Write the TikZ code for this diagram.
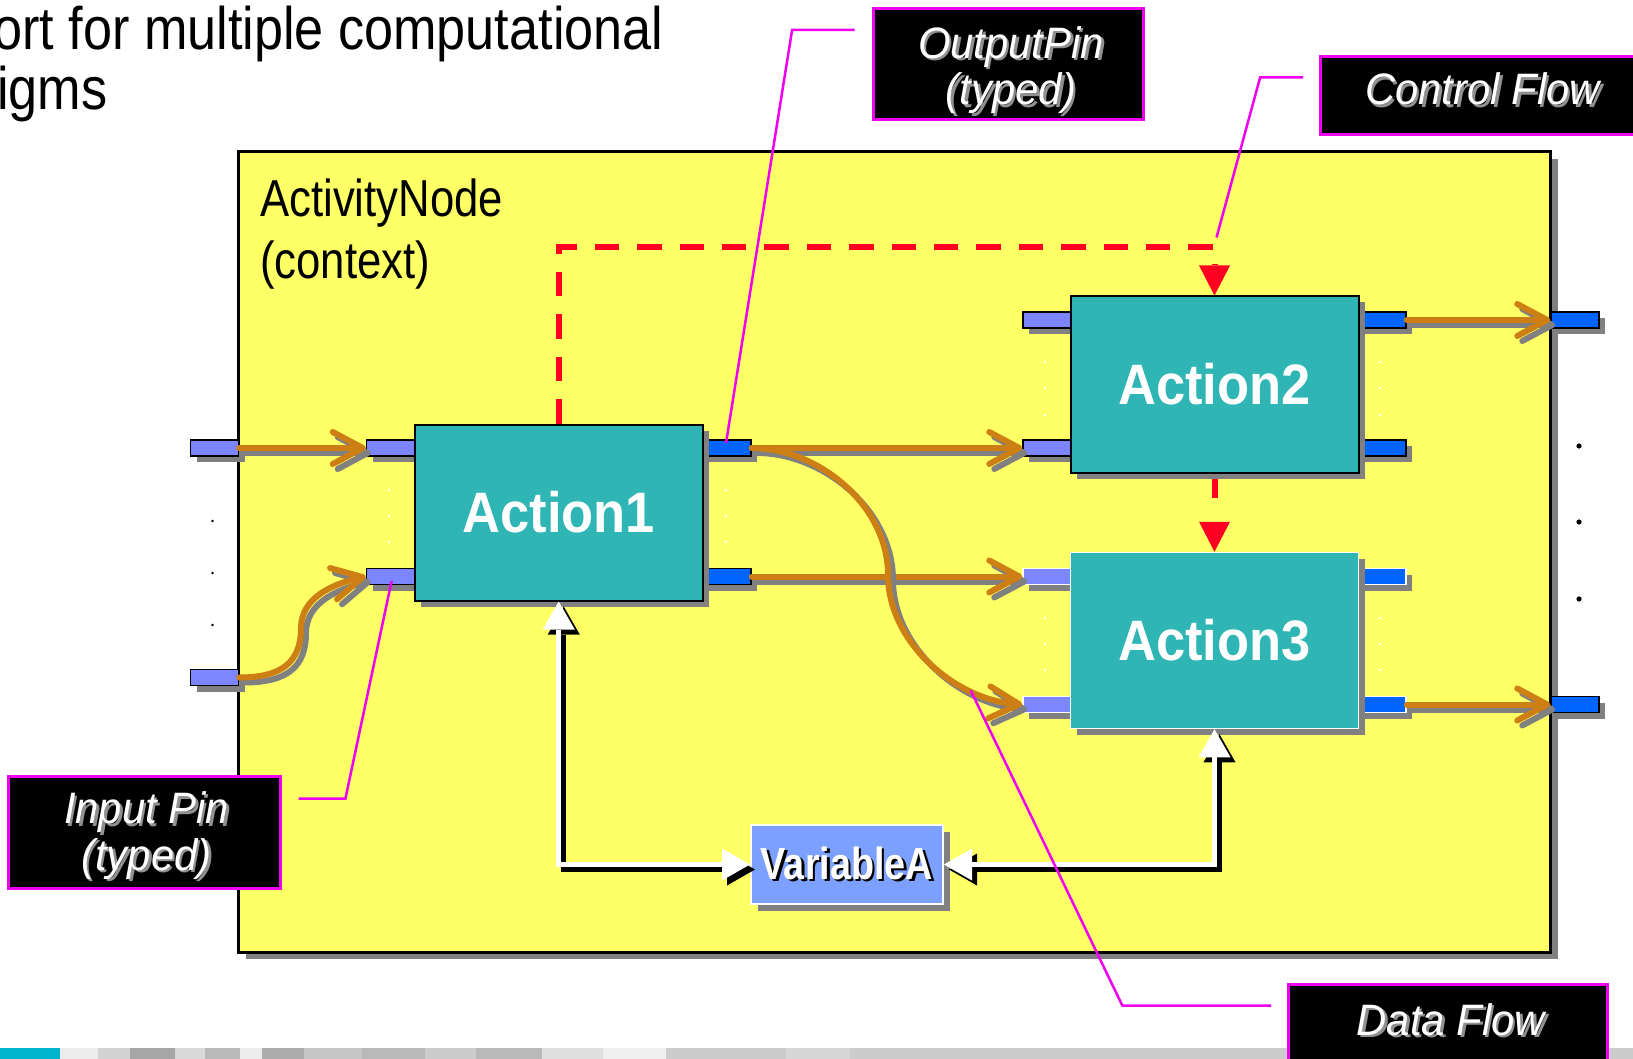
\documentclass[tikz,border=0pt]{standalone}
\usepackage{fontspec}
\setmainfont{Liberation Sans}
\newfontfamily\condfont[FakeStretch=0.84]{Liberation Sans}
\newfontfamily\actfont[FakeStretch=0.92]{Liberation Sans}
\newfontfamily\headfont[FakeStretch=0.87]{Liberation Sans}
\newfontfamily\notefont[FakeStretch=0.95]{Liberation Sans}
\usetikzlibrary{arrows.meta,shadows,calc}
\pgfdeclarelayer{base}
\pgfdeclarelayer{under}
\pgfsetlayers{base,under,main}

\definecolor{ctxyellow}{HTML}{FFFF66}
\definecolor{actteal}{HTML}{2EB5B4}
\definecolor{pinin}{HTML}{7C86FF}
\definecolor{pinout}{HTML}{0064FF}
\definecolor{flowor}{HTML}{CD7F14}
\definecolor{ctrlred}{HTML}{FF0022}
\definecolor{callmag}{HTML}{F000F0}
\definecolor{varblue}{HTML}{7BA0FF}
\definecolor{shadowgray}{HTML}{808080}
\definecolor{textshade}{HTML}{909090}
\definecolor{stripcyan}{HTML}{00B4D0}

% white text with an offset shadow copy behind it
\newcommand\shadowed[2]{\leavevmode\rlap{\kern2.5pt\raisebox{-2.5pt}{\textcolor{#1}{#2}}}#2}

\tikzset{
  boxshade/.style={drop shadow={shadow xshift=#1, shadow yshift=-#1, opacity=1, fill=shadowgray}},
  boxshade/.default=6pt,
  ctxbox/.style={draw=black, line width=3pt, fill=ctxyellow, minimum width=1312pt, minimum height=800pt, inner sep=0pt, boxshade=7pt},
  pinbox/.style={draw=black, line width=1.5pt, minimum width=48pt, minimum height=16pt, inner sep=0pt, boxshade},
  inpin/.style={pinbox, fill=pinin},
  outpin/.style={pinbox, fill=pinout},
  actbox/.style={draw=black, line width=2pt, fill=actteal, minimum width=288pt, minimum height=176pt, inner sep=0pt, text=white,
    font=\actfont\bfseries\fontsize{57}{60}\selectfont, boxshade},
  varbox/.style={draw=white, line width=2pt, fill=varblue, minimum width=192pt, minimum height=79pt, inner sep=0pt, text=white,
    font=\condfont\bfseries\fontsize{45}{50}\selectfont, boxshade=7pt},
  lblbox/.style={draw=callmag, line width=3pt, fill=black, inner sep=0pt},
  lbltext/.style={text=white, inner sep=0pt, anchor=base, font=\notefont\itshape\fontsize{44}{47}\selectfont},
  ctxtext/.style={inner sep=0pt, anchor=base west, font=\condfont\fontsize{52}{60}\selectfont},
  headtext/.style={inner sep=0pt, anchor=base west, font=\headfont\fontsize{60}{62}\selectfont},
  flowmain/.style={draw=flowor, line width=6pt, line cap=round, -{Straight Barb[length=30pt,width=32pt,round]}},
  flowshade/.style={flowmain, draw=shadowgray, transform canvas={xshift=5pt,yshift=-5pt}},
  ctrl/.style={draw=ctrlred, line width=6pt, dash pattern=on 24.4pt off 18pt, -{Triangle[length=30pt,width=31pt,line width=0pt]}},
  dsmain/.style={draw=white, line width=5pt,
    {Triangle[length=28pt,width=32pt,line width=0pt]}-{Triangle[length=28pt,width=32pt,line width=0pt]}},
  dsshade/.style={dsmain, draw=black, transform canvas={xshift=5pt,yshift=-5pt}},
  callout/.style={draw=callmag, line width=2.5pt},
}

\newcommand\flowline[1]{\draw[flowshade] #1; \draw[flowmain] #1;}
\newcommand\storeline[1]{\draw[dsshade] #1; \draw[dsmain] #1;}

\begin{document}
\begin{tikzpicture}[x=1pt, y=-1pt]
\useasboundingbox (0,0) rectangle (1633,1059);
\clip (0,0) rectangle (1633,1059);

% slide heading
\node[headtext] (head1) at (-7,50) {ort for multiple computational};
\node[headtext] (head2) at (-3,110) {igms};

% footer strip
\fill[stripcyan] (0,1048) rectangle (60,1059);
\fill[gray!15] (60,1048) rectangle (98,1059);
\fill[gray!35] (98,1048) rectangle (130,1059);
\fill[gray!70] (130,1048) rectangle (175,1059);
\fill[gray!30] (175,1048) rectangle (205,1059);
\fill[gray!55] (205,1048) rectangle (240,1059);
\fill[gray!15] (240,1048) rectangle (262,1059);
\fill[gray!65] (262,1048) rectangle (304,1059);
\fill[gray!45] (304,1048) rectangle (362,1059);
\fill[gray!55] (362,1048) rectangle (425,1059);
\fill[gray!40] (425,1048) rectangle (476,1059);
\fill[gray!55] (476,1048) rectangle (542,1059);
\fill[gray!25] (542,1048) rectangle (603,1059);
\fill[gray!12] (603,1048) rectangle (666,1059);
\fill[gray!40] (666,1048) rectangle (786,1059);
\fill[gray!32] (786,1048) rectangle (850,1059);
\fill[gray!40] (850,1048) rectangle (1633,1059);

% the activity (context)
\begin{pgfonlayer}{base}
\node[ctxbox] (ctx) at (894.75,552) {};
\end{pgfonlayer}
\node[ctxtext] (ctxname) at (260,216.6) {ActivityNode};
\node[ctxtext] (ctxkind) at (260,278.5) {(context)};

% parameter pins of the activity
\node[inpin] (pinL1) at (214.5,448) {};
\node[inpin] (pinL2) at (214.5,677.5) {};
\node[outpin] (pinR1) at (1575,320) {};
\node[outpin] (pinR2) at (1575,704.5) {};

% pins of the actions
\node[inpin] (a1in1) at (390.5,448) {};
\node[inpin] (a1in2) at (390.5,576.5) {};
\node[outpin] (a1out1) at (727,448) {};
\node[outpin] (a1out2) at (727,576.5) {};
\node[inpin] (a2in1) at (1047,320) {};
\node[inpin] (a2in2) at (1047,448) {};
\node[outpin] (a2out1) at (1382,320) {};
\node[outpin] (a2out2) at (1382,448) {};
\node[inpin, draw=white] (a3in1) at (1047,576.5) {};
\node[inpin, draw=white] (a3in2) at (1047,704.5) {};
\node[outpin, draw=white] (a3out1) at (1382,576.5) {};
\node[outpin, draw=white] (a3out2) at (1382,704.5) {};

% actions and the variable
\node[actbox] (act1) at (558.75,512.5) {Action1};
\node[actbox] (act2) at (1214.5,384.5) {Action2};
\node[actbox, draw=white, line width=1.5pt] (act3) at (1214.5,640.5) {Action3};
\node[varbox] (varA) at (847,864.5) {\shadowed{black}{VariableA}};

% "more pins" ellipses
\foreach \y in {521,573,625} \fill (212.5,\y) circle (1.3);
\foreach \y in {446,522,599} \fill (1579,\y) circle (2.6);
\foreach \x/\y in {389/490,389/516,389/542,726/490,726/516,726/542,
  1044.6/361.5,1044.6/387.5,1044.6/414.5,1380/361.5,1380/387.5,1380/414.5,
  1044.6/617.5,1044.6/643.5,1044.6/669.5,1380/617.5,1380/643.5,1380/669.5}
  \fill[white] (\x-1,\y-1) rectangle (\x+1,\y+1);

% control flow
\begin{pgfonlayer}{under}
\draw[ctrl] (act1.north) -- ++(0,-176) -| (act2.north);
\draw[ctrl, dash pattern=on 24pt off 40pt] (act2.south) -- (act3.north);
\end{pgfonlayer}

% object flow through the variable
\storeline{(act1.south) |- (varA.west)}
\storeline{(act3.south) |- (varA.east)}

% data flow
\flowline{(pinL1.east) -- (a1in1.west)}
\flowline{(pinL2.east) .. controls (282,677.5) and (301,662) .. (301,628) .. controls (301,598) and (332,584) .. (a1in2.west)}
\flowline{(a1out1.east) -- (a2in2.west)}
\flowline{(a1out2.east) -- (a3in1.west)}
\flowline{(a1out1.east) .. controls (818,448) and (888,505) .. (888,575) .. controls (888,642) and (955,700) .. (a3in2.west)}
\flowline{(a2out1.east) -- (pinR1.west)}
\flowline{(a3out2.east) -- (pinR2.west)}

% annotation boxes
\node[lblbox, minimum width=270pt, minimum height=111pt] (lblOut) at (1008,64) {};
\node[lbltext] (lblOutA) at (1011,58.5) {\shadowed{textshade}{OutputPin}};
\node[lbltext] (lblOutB) at (1011,105) {\shadowed{textshade}{(typed)}};
\node[lblbox, minimum width=324pt, minimum height=78pt] (lblCtrl) at (1482.6,96) {};
\node[lbltext] (lblCtrlA) at (1482.6,105) {\shadowed{textshade}{Control Flow}};
\node[lblbox, minimum width=272pt, minimum height=112pt] (lblIn) at (144.2,832.2) {};
\node[lbltext] (lblInA) at (146.5,823.5) {\shadowed{textshade}{Input Pin}};
\node[lbltext] (lblInB) at (146.5,870) {\shadowed{textshade}{(typed)}};
\node[lblbox, minimum width=319pt, minimum height=110pt] (lblData) at (1447.5,1039) {};
\node[lbltext] (lblDataA) at (1450.8,1035) {\shadowed{textshade}{Data Flow}};

% callout leaders
\coordinate (tipOut) at (726,443);
\coordinate (tipCtrl) at (1216.5,237.5);
\coordinate (tipIn) at (391.6,581);
\coordinate (tipData) at (970.7,690.5);
\draw[callout] ($(lblOut.north west)+(-17,23)$) -- ++(-62.4,0) -- (tipOut);
\draw[callout] ($(lblCtrl.north west)+(-16,22)$) -- ++(-43,0) -- (tipCtrl);
\draw[callout] ($(lblIn.north east)+(17,24)$) -- ++(46.7,0) -- (tipIn);
\draw[callout] ($(lblData.north west)+(-15.3,23)$) -- ++(-148.9,0) -- (tipData);
\end{tikzpicture}
\end{document}
